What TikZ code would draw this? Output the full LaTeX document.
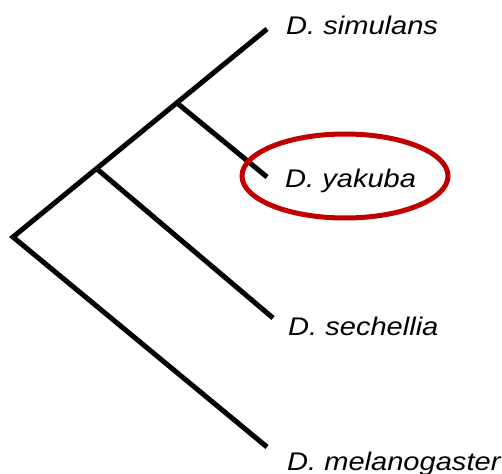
\documentclass[tikz,border=0pt]{standalone}
\usepackage{fontspec}
\setmainfont{Liberation Sans}
\newfontfamily\taxfont[FakeStretch=1.14]{Liberation Sans}
\usetikzlibrary{positioning}
\definecolor{ringred}{HTML}{C00000}

\begin{document}
\begin{tikzpicture}[
  x=1pt, y=-1pt,
  branch/.style={line width=5pt, line join=miter},
  taxon/.style={anchor=base west, inner sep=0pt, font=\taxfont\fontsize{25.5}{30}\selectfont\itshape},
  ring/.style={draw=ringred, line width=5pt}
]
  \useasboundingbox (0,0) rectangle (502,473);

  % --- Tree points ---
  \coordinate (root) at (13,237);
  \coordinate (n2) at (97,169);
  \coordinate (n1) at (177,103);
  \coordinate (simtip) at (267,29);
  \coordinate (yaktip) at (267,177);
  \coordinate (sectip) at (273,318);
  \coordinate (meltip) at (267,447);

  % --- Taxa ---
  \node[taxon] (sim) at (286,35) {D. simulans};
  \node[taxon] (yak) at (285,187) {D. yakuba};
  \node[taxon] (sec) at (288,335) {D. sechellia};
  \node[taxon] (mel) at (287,470) {D. melanogaster};

  % --- Branches ---
  \draw[branch] (simtip) -- (root) -- (meltip);
  \draw[branch] (n1) -- (yaktip);
  \draw[branch] (n2) -- (sectip);

  % --- Highlight ---
  \draw[ring] (345,176) ellipse [x radius=103, y radius=42];
\end{tikzpicture}
\end{document}
